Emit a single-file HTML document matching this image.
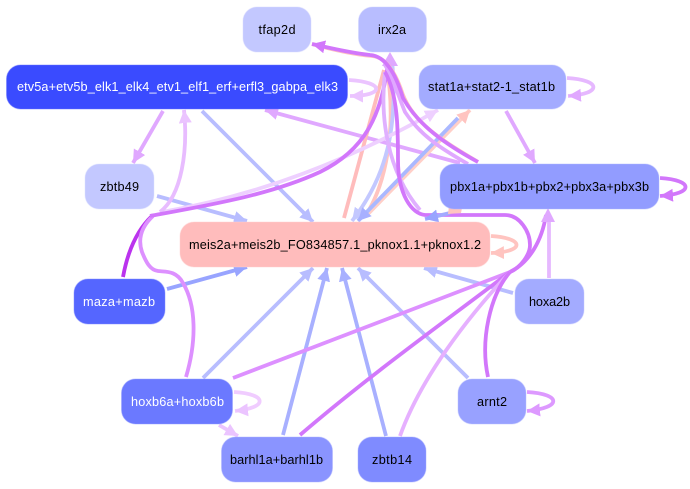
<!DOCTYPE html>
<html><head><meta charset="utf-8"><style>
html,body{margin:0;padding:0;background:#fff}
svg{display:block}
text{font-family:"Liberation Sans",Arial,sans-serif;font-size:12.7px;text-anchor:middle}
path{fill:none;stroke-width:3.8}
rect{stroke-width:1;stroke-opacity:.45}
</style></head><body>
<svg width="690" height="489" viewBox="0 0 690 489" xmlns="http://www.w3.org/2000/svg">
<defs>
<marker id="a1" markerUnits="userSpaceOnUse" markerWidth="16" markerHeight="14" refX="13" refY="6.500" orient="auto"><polygon points="0,0 13,6.500 0,13" fill="#b8bdff"/></marker>
<marker id="a2" markerUnits="userSpaceOnUse" markerWidth="16" markerHeight="14" refX="13" refY="6.500" orient="auto"><polygon points="0,0 13,6.500 0,13" fill="#e0a8ff"/></marker>
<marker id="a3" markerUnits="userSpaceOnUse" markerWidth="16" markerHeight="14" refX="13" refY="6.500" orient="auto"><polygon points="0,0 13,6.500 0,13" fill="#ebc4ff"/></marker>
<marker id="a4" markerUnits="userSpaceOnUse" markerWidth="16" markerHeight="14" refX="13" refY="6.500" orient="auto"><polygon points="0,0 13,6.500 0,13" fill="#d277fb"/></marker>
<marker id="a5" markerUnits="userSpaceOnUse" markerWidth="16" markerHeight="14" refX="13" refY="6.500" orient="auto"><polygon points="0,0 13,6.500 0,13" fill="#ffc4c0"/></marker>
<marker id="a6" markerUnits="userSpaceOnUse" markerWidth="16" markerHeight="14" refX="13" refY="6.500" orient="auto"><polygon points="0,0 13,6.500 0,13" fill="#98a4ff"/></marker>
<marker id="a7" markerUnits="userSpaceOnUse" markerWidth="16" markerHeight="14" refX="13" refY="6.500" orient="auto"><polygon points="0,0 13,6.500 0,13" fill="#a8b0ff"/></marker>
<marker id="a8" markerUnits="userSpaceOnUse" markerWidth="16" markerHeight="14" refX="13" refY="6.500" orient="auto"><polygon points="0,0 13,6.500 0,13" fill="#dd99ff"/></marker>
<marker id="a9" markerUnits="userSpaceOnUse" markerWidth="16" markerHeight="14" refX="13" refY="6.500" orient="auto"><polygon points="0,0 13,6.500 0,13" fill="#c3c8ff"/></marker>
<marker id="a10" markerUnits="userSpaceOnUse" markerWidth="16" markerHeight="14" refX="13" refY="6.500" orient="auto"><polygon points="0,0 13,6.500 0,13" fill="#eed0ff"/></marker>
</defs>

<!-- straight edges -->
<path d="M202,111 L313,222" stroke="#b8bdff" marker-end="url(#a1)"/>
<path d="M157,196 L247,221" stroke="#b8bdff" marker-end="url(#a1)"/>
<path d="M167,289 L247,267" stroke="#98a4ff" marker-end="url(#a6)"/>
<path d="M203,378 L313,268" stroke="#b8bdff" marker-end="url(#a1)"/>
<path d="M283,435 L327,268" stroke="#a8b0ff" marker-end="url(#a7)"/>
<path d="M386,436 L342,268" stroke="#a8b0ff" marker-end="url(#a7)"/>
<path d="M468,378 L358,268" stroke="#b8bdff" marker-end="url(#a1)"/>
<path d="M513,293 L424,268" stroke="#b8bdff" marker-end="url(#a1)"/>
<path d="M163,111 L133,163" stroke="#e0a8ff" marker-end="url(#a2)"/>
<path d="M506,111 L535,163" stroke="#e0a8ff" marker-end="url(#a2)"/>
<path d="M460,163 L265,110" stroke="#e0a8ff" marker-end="url(#a2)"/>
<path d="M219,425 L238,436" stroke="#ebc4ff" marker-end="url(#a3)"/>
<path d="M549,278 L549,215" stroke="#e6b8ff"/>

<!-- long curves -->
<path d="M344,218 L384,70" stroke="#ffbcbc"/>
<path d="M366,215 C385,185 398,130 386,62" stroke="#ffc4c0"/>
<path d="M392,60 C398,125 388,175 352,221" stroke="#c3c8ff" marker-end="url(#a9)"/>
<path d="M366,216 L470,110" stroke="#ffcfc8" marker-end="url(#a5)"/>
<path d="M458,118 L358,221" stroke="#aab8ff" marker-end="url(#a7)"/>
<path d="M162,212 C260,195 350,160 438,110" stroke="#eed0ff" marker-end="url(#a10)"/>
<path d="M160,212 C182,195 188,150 184,110" stroke="#e8bcff" marker-end="url(#a3)"/>
<path d="M123,277 C127,255 135,232 152,216" stroke="#bb33ee"/>
<path d="M186,377 C197,340 196,305 183,283 C176,270 165,272 158,271 C150,270 146,262 142,252 C138,240 140,228 153,216" stroke="#dd90ff"/>
<path d="M150,216 C210,205 270,195 320,172 C365,150 382,115 388,62" stroke="#d277fb" stroke-width="4.500"/>
<polygon points="390,52 398,66 382,66" fill="#dfa8ff"/>
<path d="M385,72 C380,115 386,170 420,210" stroke="#e0b0ff"/>
<path d="M468,164 C440,148 420,135 405,112 C398,95 392,75 385,65" stroke="#e0a8ff"/>
<path d="M478,162 C445,142 415,125 403,95 C395,70 385,57 372,56 C350,54 330,49 312,44" stroke="#ffc4c0" stroke-width="3"/>
<path d="M478,162 C445,144 418,125 403,98 C395,72 385,56 370,55 C350,53 330,48 312,44" stroke="#d277fb" stroke-width="4.200" marker-end="url(#a4)"/>
<path d="M385,72 C398,95 398,130 398,160 C398,195 412,214 425,215 L505,215 C520,215 530,232 530,245 C530,255 520,268 510,272" stroke="#d277fb" stroke-width="3.800"/>
<path d="M450,213 L425,219" stroke="#a3abff" marker-end="url(#a6)"/>
<polygon points="449,206 462,208 461,213 448,214" fill="#ffc4c0"/>

<!-- converging on pbx via hub -->
<path d="M233,378 L510,272" stroke="#dd90ff"/>
<path d="M300,435 C370,375 440,325 510,272" stroke="#d277fb"/>
<path d="M400,436 C420,380 465,320 510,272" stroke="#e6b0ff"/>
<path d="M488,377 C480,340 490,295 510,272" stroke="#d277fb"/>
<path d="M510,272 C530,262 542,240 546,215" stroke="#d277fb" stroke-width="4"/>
<polygon points="548,208 555,222 541,222" fill="#e0a8ff"/>

<!-- self loops -->
<path d="M349,80 C385,82 385,96 350,96" stroke="#ebc4ff" marker-end="url(#a3)"/>
<path d="M567,78 C602,80 602,94 568,96" stroke="#e6b8ff" marker-end="url(#a2)"/>
<path d="M660,178 C694,180 694,194 660,196" stroke="#d277fb" marker-end="url(#a4)"/>
<path d="M491,236 C525,238 525,252 491,253" stroke="#ffc4c0" marker-end="url(#a5)"/>
<path d="M234,392 C268,394 268,408 235,411" stroke="#f0ccff" marker-end="url(#a3)"/>
<path d="M527,392 C562,394 562,408 527,411" stroke="#dd99ff" marker-end="url(#a8)"/>

<!-- nodes -->
<rect x="243" y="7" width="68" height="45" rx="14" fill="#c3c8ff" stroke="#d5d8ff"/>
<rect x="358.500" y="7" width="68" height="45" rx="14" fill="#b8bdff" stroke="#ccd0ff"/>
<rect x="6.500" y="65" width="341" height="44" rx="14" fill="#3a4bff" stroke="#6672ff"/>
<rect x="419" y="65" width="147" height="44" rx="14" fill="#a3abff" stroke="#bcc2ff"/>
<rect x="85" y="164" width="69" height="45" rx="14" fill="#c3c8ff" stroke="#dcdfff"/>
<rect x="440" y="164" width="219" height="45" rx="14" fill="#929cff" stroke="#b0b7ff"/>
<rect x="180" y="222" width="310" height="45" rx="14" fill="#ffbcbc" stroke="#ffd0d0"/>
<rect x="74" y="279" width="91" height="45" rx="14" fill="#5566ff" stroke="#7c89ff"/>
<rect x="515" y="279" width="69" height="45" rx="14" fill="#a3abff" stroke="#c0c6ff"/>
<rect x="121.500" y="379" width="111" height="45" rx="14" fill="#6b79ff" stroke="#939dff"/>
<rect x="458" y="379" width="68" height="45" rx="14" fill="#98a1ff" stroke="#b9bfff"/>
<rect x="221.500" y="437" width="111" height="45" rx="14" fill="#8a94ff" stroke="#abb2ff"/>
<rect x="358" y="437" width="68" height="45" rx="14" fill="#7f8bff" stroke="#a1a9ff"/>

<!-- labels -->
<text x="277" y="34" textLength="37" lengthAdjust="spacing">tfap2d</text>
<text x="392" y="34" textLength="28" lengthAdjust="spacing">irx2a</text>
<text x="177.500" y="91" fill="#fff" textLength="321" lengthAdjust="spacing">etv5a+etv5b_elk1_elk4_etv1_elf1_erf+erfl3_gabpa_elk3</text>
<text x="491.500" y="91" textLength="127" lengthAdjust="spacing">stat1a+stat2-1_stat1b</text>
<text x="119.500" y="191" textLength="39" lengthAdjust="spacing">zbtb49</text>
<text x="549.500" y="191" textLength="199" lengthAdjust="spacing">pbx1a+pbx1b+pbx2+pbx3a+pbx3b</text>
<text x="335" y="249" textLength="292" lengthAdjust="spacing">meis2a+meis2b_FO834857.1_pknox1.1+pknox1.2</text>
<text x="119" y="306" fill="#fff" textLength="72" lengthAdjust="spacing">maza+mazb</text>
<text x="549.500" y="306" textLength="41" lengthAdjust="spacing">hoxa2b</text>
<text x="177.500" y="406" fill="#fff" textLength="93" lengthAdjust="spacing">hoxb6a+hoxb6b</text>
<text x="492" y="406" textLength="30" lengthAdjust="spacing">arnt2</text>
<text x="276.500" y="464" textLength="93" lengthAdjust="spacing">barhl1a+barhl1b</text>
<text x="392" y="464" textLength="40" lengthAdjust="spacing">zbtb14</text>
</svg>
</body></html>
